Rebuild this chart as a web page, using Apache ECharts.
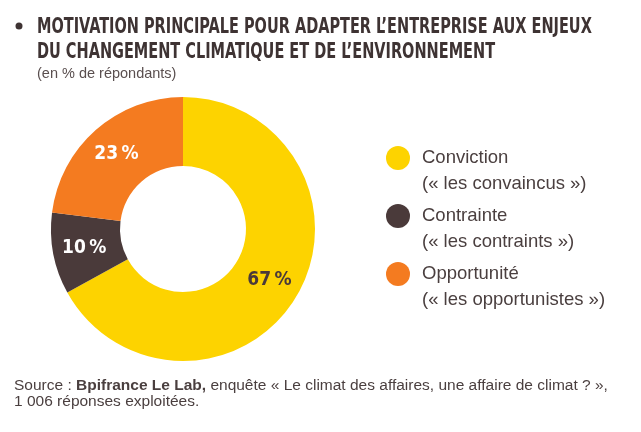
<!DOCTYPE html>
<html><head><meta charset="utf-8">
<script src="https://cdn.jsdelivr.net/npm/echarts@6/dist/echarts.min.js"></script>
<style>html,body{margin:0;padding:0;background:#fff}#c{width:641px;height:432px}</style>
</head><body><div id="c"></div>
<script>
const categories = ['Conviction', 'Contrainte', 'Opportunité'];
const subLabels = ['(« les convaincus »)', '(« les contraints »)', '(« les opportunistes »)'];
const values = [67, 10, 23];
const colors = ['#FDD300', '#4A3A3A', '#F47B20'];
const labelColors = ['#4A3A3A', '#FFFFFF', '#FFFFFF'];
const titleLines = ['MOTIVATION PRINCIPALE POUR ADAPTER L\u2019ENTREPRISE AUX ENJEUX', 'DU CHANGEMENT CLIMATIQUE ET DE L\u2019ENVIRONNEMENT'];
const subtitle = '(en % de répondants)';

const chart = echarts.init(document.getElementById('c'), null, {renderer: 'canvas'});
const dark = '#3E3333';
const txt = '#4A3F3F';
const condFont = '"Liberation Sans Narrow", "DejaVu Sans Condensed", sans-serif';
const sans = '"Liberation Sans", Arial, sans-serif';

const legendGraphics = [];
categories.forEach((c, i) => {
  const cy = 158 + i * 58;
  legendGraphics.push({ type: 'circle', shape: { cx: 398, cy: cy, r: 12 }, style: { fill: colors[i] } });
  legendGraphics.push({ type: 'text', x: 422, y: cy, style: { text: c, font: '18.5px ' + sans, fill: txt, verticalAlign: 'middle' } });
  legendGraphics.push({ type: 'text', x: 422, y: cy + 26, style: { text: subLabels[i], font: '18.5px ' + sans, fill: txt, verticalAlign: 'middle' } });
});

chart.setOption({
  animation: false,
  backgroundColor: '#fff',
  series: [{
    type: 'pie',
    center: [183, 229],
    radius: [63, 132],
    startAngle: 90,
    clockwise: true,
    silent: true,
    data: categories.map((c, i) => ({
      name: c, value: values[i],
      itemStyle: { color: colors[i] },
      label: { color: labelColors[i] }
    })),
    label: {
      show: true, position: 'inside',
      formatter: p => p.value + '\u2009%',
      fontFamily: condFont,
      fontWeight: 'bold', fontSize: 19
    },
    labelLine: { show: false }
  }],
  graphic: [
    { type: 'circle', shape: { cx: 19, cy: 26, r: 3.5 }, style: { fill: dark } },
    { type: 'text', x: 37, y: 27, scaleX: 0.733, style: { text: titleLines[0], font: 'bold 22px ' + condFont, fill: dark, verticalAlign: 'middle' } },
    { type: 'text', x: 37, y: 52, scaleX: 0.733, style: { text: titleLines[1], font: 'bold 22px ' + condFont, fill: dark, verticalAlign: 'middle' } },
    { type: 'text', x: 37, y: 74, style: { text: subtitle, font: '14.5px ' + sans, fill: '#5A4F4F', verticalAlign: 'middle' } },
    { type: 'text', x: 14, y: 378, style: {
      text: '{n|Source : }{b|Bpifrance Le Lab,}{n| enquête « Le climat des affaires, une affaire de climat ? »,}\n{n|1 006 réponses exploitées.}',
      rich: {
        n: { font: '15.5px ' + sans, fill: txt, lineHeight: 16 },
        b: { font: 'bold 15.5px ' + sans, fill: txt, lineHeight: 16 }
      }
    } }
  ].concat(legendGraphics)
});
</script></body></html>
